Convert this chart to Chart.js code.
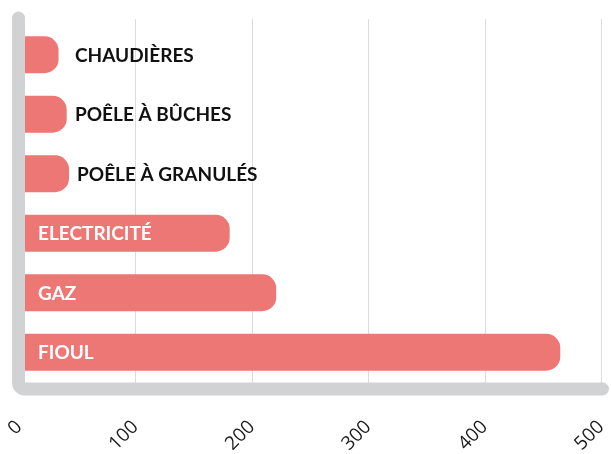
<!DOCTYPE html>
<html>
<head>
<meta charset="utf-8">
<script src="https://cdn.jsdelivr.net/npm/chart.js@4"></script>
<style>
  html, body { margin: 0; padding: 0; background: #fff; }
  #wrap { width: 611px; height: 454px; }
</style>
</head>
<body>
<div id="wrap"><canvas id="chauffage"></canvas></div>
<script>
const categories = ["CHAUDIÈRES", "POÊLE À BÛCHES", "POÊLE À GRANULÉS", "ELECTRICITÉ", "GAZ", "FIOUL"];
const values = [34, 41, 43, 181, 221, 465];
const tickValues = [0, 100, 200, 300, 400, 500];

const barColor = "#ed7775";
const axisColor = "#d1d2d4";

// grilles verticales (un peu plus hautes que la zone du graphe)
const gridPlugin = {
  id: "grid",
  beforeDatasetsDraw(chart) {
    const { ctx, chartArea, scales } = chart;
    ctx.save();
    ctx.strokeStyle = "#dcdcdc";
    ctx.lineWidth = 1;
    tickValues.slice(1).forEach(v => {
      const x = Math.round(scales.x.getPixelForValue(v)) + 0.5;
      ctx.beginPath();
      ctx.moveTo(x, chartArea.top - 6);
      ctx.lineTo(x, chartArea.bottom + 4);
      ctx.stroke();
    });
    ctx.restore();
  }
};

// axes gris épais en L arrondi
const axisPlugin = {
  id: "axisL",
  afterDatasetsDraw(chart) {
    const { ctx, chartArea, scales } = chart;
    const left = scales.x.getPixelForValue(0) - 0.5;
    const right = scales.x.getPixelForValue(500) + 1.5;
    const top = chartArea.top - 7;
    const bottom = chartArea.bottom + 7;
    const r = 6;
    ctx.save();
    ctx.strokeStyle = axisColor;
    ctx.lineWidth = 13;
    ctx.lineCap = "round";
    ctx.lineJoin = "round";
    ctx.beginPath();
    ctx.moveTo(left, top);
    ctx.lineTo(left, bottom - r);
    ctx.arcTo(left, bottom, left + r, bottom, r);
    ctx.lineTo(right, bottom);
    ctx.stroke();
    ctx.restore();
  }
};

// étiquettes : dans la barre si elle est longue, à côté sinon
const labelPlugin = {
  id: "barLabels",
  afterDatasetsDraw(chart) {
    const { ctx, scales } = chart;
    const x0 = scales.x.getPixelForValue(0);
    const meta = chart.getDatasetMeta(0);
    ctx.save();
    ctx.font = "bold 19px Lato";
    ctx.textAlign = "left";
    ctx.textBaseline = "alphabetic";
    meta.data.forEach((bar, i) => {
      const inside = values[i] >= 100;
      const x = inside ? x0 + 19 : Math.max(bar.x + 8, x0 + 56);
      ctx.fillStyle = inside ? "#ffffff" : "#111111";
      ctx.fillText(categories[i], x, bar.y + 7);
    });
    ctx.restore();
  }
};

new Chart(document.getElementById("chauffage"), {
  type: "bar",
  data: {
    labels: categories,
    datasets: [{
      data: values,
      backgroundColor: barColor,
      borderRadius: 14,
      borderSkipped: "start",
      categoryPercentage: 1,
      barPercentage: 0.62
    }]
  },
  options: {
    indexAxis: "y",
    responsive: true,
    maintainAspectRatio: false,
    animation: false,
    layout: { padding: { left: 19, right: 10, top: 25, bottom: 0 } },
    plugins: { legend: { display: false }, tooltip: { enabled: false } },
    scales: {
      x: {
        min: 0,
        max: 500,
        afterBuildTicks(scale) { scale.ticks = tickValues.map(v => ({ value: v })); },
        afterFit(scale) {
          scale.height = 72;
          scale.paddingLeft = 0;
          scale.paddingRight = 0;
        },
        grid: { display: false, drawTicks: false },
        border: { display: false },
        ticks: {
          minRotation: 45,
          maxRotation: 45,
          padding: 34,
          color: "#1a1a1a",
          font: { family: "Open Sans", size: 19 }
        }
      },
      y: {
        display: false
      }
    }
  },
  plugins: [gridPlugin, labelPlugin, axisPlugin]
});
</script>
</body>
</html>
